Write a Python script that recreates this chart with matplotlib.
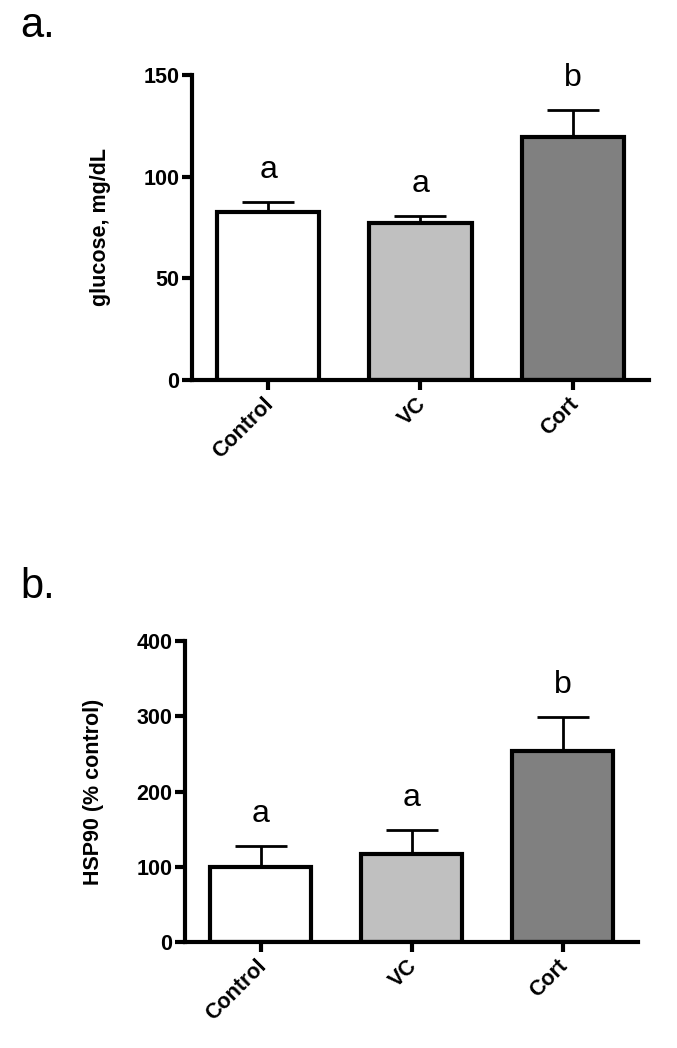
import numpy as np
import matplotlib
matplotlib.use('Agg')
import matplotlib.pyplot as plt
import matplotlib.transforms as mtrans

#---------------------------------------------------------------#
# Data                                      #
#---------------------------------------------------------------#
groups      = ['Control', 'VC', 'Cort']
barColors   = ['#ffffff', '#c0c0c0', '#808080']

glucose     = [82.6, 77.2, 119.5]
glucoseSem  = [5.0, 3.5, 13.3]
glucoseSig  = ['a', 'a', 'b']

hsp90       = [100.0, 117.0, 254.0]
hsp90Sem    = [28.0, 32.0, 45.0]
hsp90Sig    = ['a', 'a', 'b']

plt.rcParams['font.family'] = ['Liberation Sans', 'DejaVu Sans']

LW = 3.0
TXT = 15.5

def drawPanel(fig, ax, means, sems, sig, ymax, ystep, ylabel, labelX):
  x = np.arange(len(groups))
  ax.bar(x, means, width = 0.67, color = barColors, edgecolor = 'black',
         linewidth = LW, zorder = 2)
  ax.errorbar(x, means, yerr = [np.zeros(len(sems)), sems], fmt = 'none',
              ecolor = 'black', elinewidth = 2.0, capsize = 18.5,
              capthick = 2.0, zorder = 1)
  for xi, m, s, t in zip(x, means, sems, sig):
    ax.annotate(t, xy = (xi, m + s), xytext = (0, 17),
                textcoords = 'offset points', ha = 'center', va = 'baseline',
                fontsize = 23)

  ax.set_xlim(-0.5, 2.5)
  ax.set_ylim(0, ymax)
  ax.set_yticks(np.arange(0, ymax + 1, ystep))
  ax.set_xticks(x)
  ax.spines['top'].set_visible(False)
  ax.spines['right'].set_visible(False)
  ax.spines['left'].set_linewidth(LW)
  ax.spines['bottom'].set_linewidth(LW)
  ax.tick_params(axis = 'both', direction = 'out', length = 7, width = LW,
                 pad = 2)

  ax.set_xticklabels(groups, rotation = 45, ha = 'right',
                     rotation_mode = 'anchor', fontsize = TXT,
                     fontweight = 'bold')
  # nudge rotated labels a little left so they end under the tick
  shift = mtrans.ScaledTranslation(-5/100, -1/100, fig.dpi_scale_trans)
  for lab in ax.xaxis.get_majorticklabels():
    lab.set_transform(lab.get_transform() + shift)
  for lab in ax.get_yticklabels():
    lab.set_fontweight('bold')
    lab.set_fontsize(TXT)

  ax.set_ylabel(ylabel, fontsize = TXT, fontweight = 'bold', va = 'center')
  ax.yaxis.set_label_coords(labelX, 0.5)

fig = plt.figure(figsize = (6.77, 10.48), dpi = 100)
axA = fig.add_axes([192/677, 1 - 380/1048, 457/677, 305/1048])
axB = fig.add_axes([185/677, 1 - 942/1048, 453/677, 301/1048])

drawPanel(fig, axA, glucose, glucoseSem, glucoseSig, 150, 50, 'glucose, mg/dL', -0.201)
drawPanel(fig, axB, hsp90, hsp90Sem, hsp90Sig, 400, 100, 'HSP90 (% control)', -0.203)

fig.text(20/677, 1 - 37/1048, 'a.', fontsize = 30, va = 'baseline', ha = 'left')
fig.text(20/677, 1 - 598/1048, 'b.', fontsize = 30, va = 'baseline', ha = 'left')

plt.savefig('out.png', dpi = 100)
